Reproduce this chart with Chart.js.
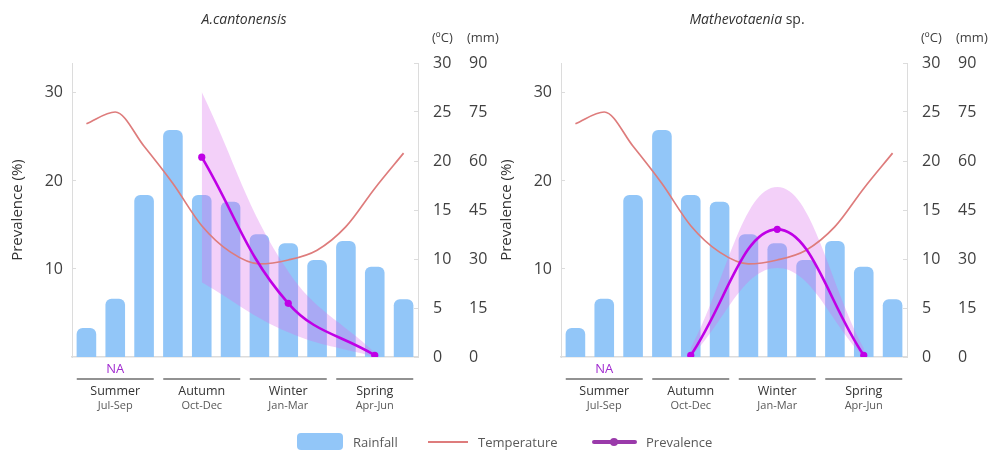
<!DOCTYPE html>
<html><head><meta charset="utf-8">
<script src="https://cdn.jsdelivr.net/npm/chart.js@4.4.1/dist/chart.umd.min.js"></script>
<style>
html,body{margin:0;padding:0;background:#fff;width:990px;height:451px;overflow:hidden;font-family:"Open Sans",sans-serif;}
canvas{position:absolute;top:0;}
#c1{left:0}
#c2{left:489px}
.lg{position:absolute;font-size:13px;color:#595959;line-height:16px;top:434px;white-space:nowrap;}
</style></head><body>
<canvas id="c1" width="500" height="451"></canvas>
<canvas id="c2" width="500" height="451"></canvas>
<div style="position:absolute;left:297px;top:433px;width:46px;height:17px;border-radius:4px;background:rgb(146,198,248)"></div>
<div class="lg" style="left:353px">Rainfall</div>
<div style="position:absolute;left:428px;top:441px;width:40px;height:2px;background:#de7c7c"></div>
<div class="lg" style="left:478px">Temperature</div>
<div style="position:absolute;left:592px;top:440px;width:45px;height:4px;background:#9a3aaa;border-radius:2px"></div>
<div style="position:absolute;left:610px;top:438px;width:8px;height:8px;border-radius:50%;background:#9a3aaa"></div>
<div class="lg" style="left:646px">Prevalence</div>
<script>
// ---- data ----
const months = ['Jul','Aug','Sep','Oct','Nov','Dec','Jan','Feb','Mar','Apr','May','Jun'];
const rainfall = [8.9, 17.8, 49.6, 69.5, 49.6, 47.5, 37.6, 34.8, 29.7, 35.5, 27.6, 17.7];
const temperature = [23.8, 25.0, 21.5, 17.7, 13.4, 10.7, 9.5, 9.9, 10.9, 13.3, 17.2, 20.8];
const seasons = ['Summer','Autumn','Winter','Spring'];
const seasonMonths = ['Jul-Sep','Oct-Dec','Jan-Mar','Apr-Jun'];
const seasonMid = ['Aug','Nov','Feb','May'];
const naSeason = 'Aug';
const naLabel = 'NA';
const prevTicks = [10, 20, 30];
const tempTicks = [0, 5, 10, 15, 20, 25, 30];
const rainTicks = [0, 15, 30, 45, 60, 75, 90];
// A.cantonensis prevalence and band
const prevA      = [null, null, null, null, 22.7, null, null, 6.1, null, null, 0.2, null];
const prevAUpper = [null, null, null, null, 30.1, null, null, 9.7, null, null, 0.5, null];
const prevALower = [null, null, null, null, 8.5,  null, null, 2.8, null, null, 0.0, null];
// Mathevotaenia sp. prevalence and band
const prevM      = [null, null, null, null, 0.2, null, null, 14.5, null, null, 0.2, null];
const prevMUpper = [null, null, null, null, 1.0, null, null, 19.3, null, null, 1.0, null];
const prevMLower = [null, null, null, null, 0.0, null, null, 10.1, null, null, 0.0, null];

// ---- style ----
const F = '"Open Sans", sans-serif';
const RAIN = 'rgb(146,198,248)';
const TEMP = '#de7c7c';
const PREV = '#bf00e6';
const BAND = 'rgba(218,108,236,0.32)';
const AX = '#dcdcdc';
const TXT = '#404040';

const annot = {
  id: 'annot',
  afterDraw(chart, args, o) {
    const ctx = chart.ctx, x = chart.scales.x, yT = chart.scales.y1, yR = chart.scales.y2;
    const ca = chart.chartArea;
    ctx.save();
    ctx.textBaseline = 'middle';
    ctx.fillStyle = '#333';
    let total = 0;
    const parts = o.title.map(p => {
      ctx.font = (p.italic ? 'italic ' : '') + '14px ' + F;
      const w = ctx.measureText(p.text).width; total += w; return {p, w};
    });
    let tx = (ca.left + ca.right) / 2 + o.titleShift - total / 2;
    ctx.textAlign = 'left';
    parts.forEach(({p, w}) => {
      ctx.font = (p.italic ? 'italic ' : '') + '14px ' + F;
      ctx.fillText(p.text, tx, 20); tx += w;
    });
    ctx.font = '13px ' + F;
    ctx.fillStyle = TXT;
    ctx.fillText('(ºC)', yT.left + 14, 38);
    ctx.fillText('(mm)', yR.left + 9, 38);
    ctx.textAlign = 'center';
    ctx.font = '13px ' + F;
    ctx.fillStyle = '#a12bd0';
    ctx.fillText(naLabel, x.getPixelForValue(months.indexOf(naSeason)), 369);
    seasons.forEach((s, i) => {
      const cx = x.getPixelForValue(months.indexOf(seasonMid[i]));
      ctx.strokeStyle = '#6e6e6e'; ctx.lineWidth = 1.5;
      ctx.beginPath(); ctx.moveTo(cx - 38.5, 379); ctx.lineTo(cx + 38.5, 379); ctx.stroke();
      ctx.fillStyle = '#333'; ctx.font = '12.5px ' + F;
      ctx.fillText(s, cx, 391);
      ctx.fillStyle = '#595959'; ctx.font = '11px ' + F;
      ctx.fillText(seasonMonths[i], cx, 406);
    });
    ctx.restore();
  }
};

function makeChart(id, prev, up, lo, title, titleShift) {
  return new Chart(document.getElementById(id), {
    type: 'bar',
    data: {
      labels: months,
      datasets: [
        {type: 'line', label: 'Prevalence', data: prev, yAxisID: 'y', borderColor: PREV, backgroundColor: PREV,
         borderWidth: 2.6, pointRadius: 3.6, pointBorderWidth: 0, pointBackgroundColor: PREV,
         tension: 0.4, spanGaps: true, order: 1, fill: false},
        {type: 'line', label: 'Temperature', data: temperature, yAxisID: 'y1', borderColor: TEMP,
         borderWidth: 1.7, pointRadius: 0, cubicInterpolationMode: 'monotone', order: 2, fill: false},
        {type: 'line', label: 'upper', data: up, yAxisID: 'y', borderWidth: 0, borderColor: 'rgba(0,0,0,0)', pointRadius: 0,
         tension: 0.4, spanGaps: true, fill: '+1', backgroundColor: BAND, order: 3},
        {type: 'line', label: 'lower', data: lo, yAxisID: 'y', borderWidth: 0, borderColor: 'rgba(0,0,0,0)', pointRadius: 0,
         tension: 0.4, spanGaps: true, fill: false, order: 4},
        {type: 'bar', label: 'Rainfall', data: rainfall, yAxisID: 'y2', backgroundColor: RAIN,
         borderRadius: 6, borderSkipped: 'start', barPercentage: 0.68, categoryPercentage: 1, order: 5}
      ]
    },
    options: {
      responsive: false, animation: false, devicePixelRatio: 1,
      layout: {padding: {top: 63, left: 0, right: 0, bottom: 0}},
      plugins: {legend: {display: false}, tooltip: {enabled: false}, annot: {title, titleShift}},
      scales: {
        x: {type: 'category', offset: true, grid: {display: false, drawTicks: false},
            border: {display: true, color: AX, width: 1.5}, ticks: {display: false},
            afterFit(s) { s.height = 94; }},
        y: {position: 'left', min: 0, max: 33.4,
            ticks: {stepSize: 10, font: {size: 16, family: F}, color: TXT, padding: 13},
            afterBuildTicks(s) { s.ticks = prevTicks.map(v => ({value: v})); },
            grid: {drawOnChartArea: false, drawTicks: true, tickLength: -4, color: AX},
            border: {display: true, color: AX},
            title: {display: true, text: 'Prevalence (%)', font: {size: 15, family: F}, color: '#333', padding: {top: 9, bottom: 0}},
            afterFit(s) { s.width = 72; }},
        y1: {position: 'right', min: 0, max: 30, weight: 0,
             ticks: {stepSize: 5, font: {size: 16, family: F}, color: TXT, padding: 19},
             afterBuildTicks(s) { s.ticks = tempTicks.map(v => ({value: v})); },
             grid: {drawOnChartArea: false, drawTicks: true, tickLength: -4, color: AX},
             border: {display: true, color: AX},
             afterFit(s) { s.width = 40; }},
        y2: {position: 'right', min: 0, max: 90, weight: 1,
             ticks: {stepSize: 15, font: {size: 16, family: F}, color: TXT, padding: 11},
             afterBuildTicks(s) { s.ticks = rainTicks.map(v => ({value: v})); },
             grid: {display: false, drawTicks: false},
             border: {display: false},
             afterFit(s) { s.width = 42; }}
      }
    },
    plugins: [annot]
  });
}

makeChart('c1', prevA, prevAUpper, prevALower, [{text: 'A.cantonensis', italic: true}], -1);
makeChart('c2', prevM, prevMUpper, prevMLower, [{text: 'Mathevotaenia', italic: true}, {text: ' sp.', italic: false}], 13);
</script>
</body></html>
